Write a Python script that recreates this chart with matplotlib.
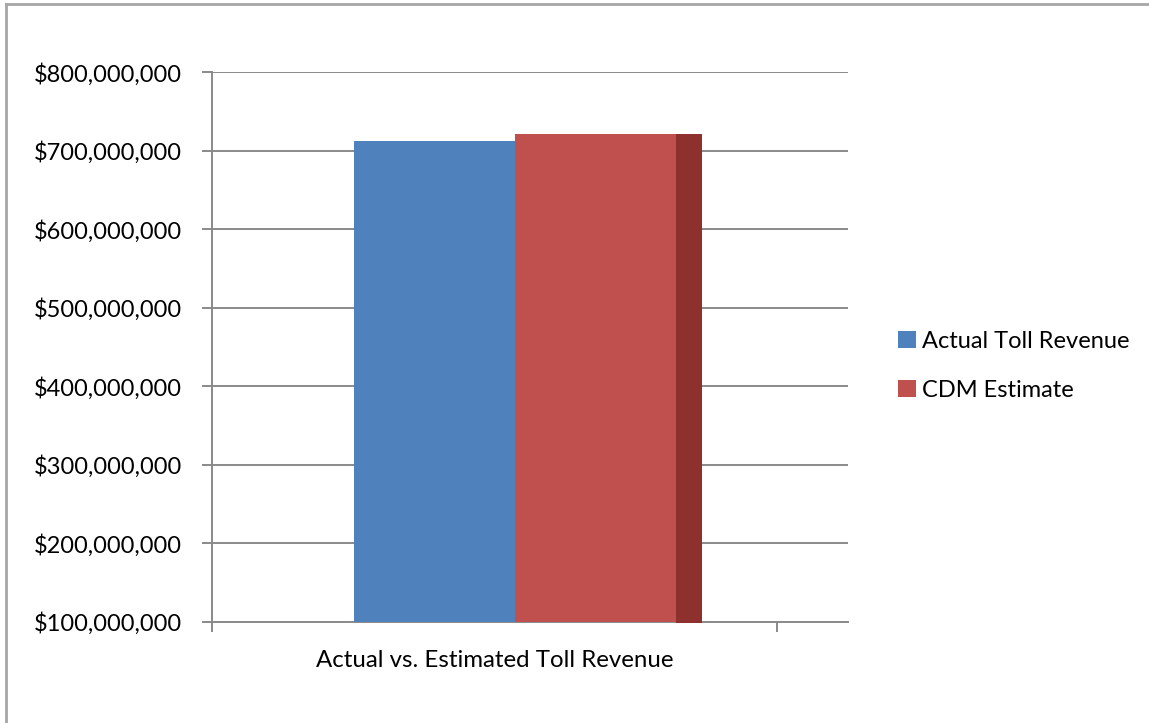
import matplotlib
matplotlib.use("Agg")
import matplotlib.pyplot as plt
from matplotlib.lines import Line2D
from matplotlib.ticker import FuncFormatter, MultipleLocator

category = "Actual vs. Estimated Toll Revenue"
series_names = ["Actual Toll Revenue", "CDM Estimate"]
series_values = [712_000_000, 721_000_000]
series_colors = ["#4F81BD", "#C0504D"]
side_color = "#8E302D"

plt.rcParams['font.family'] = ['Lato', 'DejaVu Sans']

fig = plt.figure(figsize=(11.49, 7.23), dpi=100)
ax = fig.add_axes([0.1845, 0.1397, 0.5536, 0.7604])

bar_w = 0.285
shift = 0.037
depth = 0.046
n = len(series_values)
for i, (name, v, c) in enumerate(zip(series_names, series_values, series_colors)):
    xc = shift + (i - (n - 1) / 2) * bar_w
    ax.bar(xc, v, width=bar_w, color=c, label=name, zorder=3)
    if i == n - 1:
        x0 = xc + bar_w / 2
        ax.fill_between([x0, x0 + depth], [0, 0], [v, v], color=side_color,
                        zorder=3, linewidth=0)

ax.set_ylim(100_000_000, 800_000_000)
ax.set_xlim(-0.5, 0.626)
ax.yaxis.set_major_locator(MultipleLocator(100_000_000))
ax.yaxis.set_major_formatter(FuncFormatter(lambda v, p: "${:,.0f}".format(v)))
ax.grid(axis='y', color='#8A8A8A', linewidth=1.4, zorder=0)
ax.set_axisbelow(True)

ax.set_xticks([-0.5, 0.5])
ax.set_xticklabels(["", ""])
ax.set_xticks([0.0], minor=True)
ax.set_xticklabels([category], minor=True)
ax.tick_params(axis='x', which='minor', length=0, pad=20, labelsize=17.3)
ax.tick_params(axis='x', which='major', length=7, width=1.4, color='#8A8A8A')
ax.tick_params(axis='y', length=7, width=1.4, color='#8A8A8A', pad=14.5, labelsize=17)

for s in ['top', 'right']:
    ax.spines[s].set_visible(False)
for s in ['left', 'bottom']:
    ax.spines[s].set_color('#8A8A8A')
    ax.spines[s].set_linewidth(1.4)

leg = ax.legend(loc='center left', bbox_to_anchor=(1.045, 0.466), frameon=False,
                fontsize=17, handlelength=0.75, handleheight=0.75, handletextpad=0.25,
                labelspacing=1.2)

fig.add_artist(Line2D([6 / 1149, 6 / 1149], [0, 1 - 4 / 723], color='#A6A6A6',
                      linewidth=2, transform=fig.transFigure))
fig.add_artist(Line2D([6 / 1149, 1], [1 - 4 / 723, 1 - 4 / 723], color='#A6A6A6',
                      linewidth=2, transform=fig.transFigure))

fig.savefig("out.png", dpi=100)
